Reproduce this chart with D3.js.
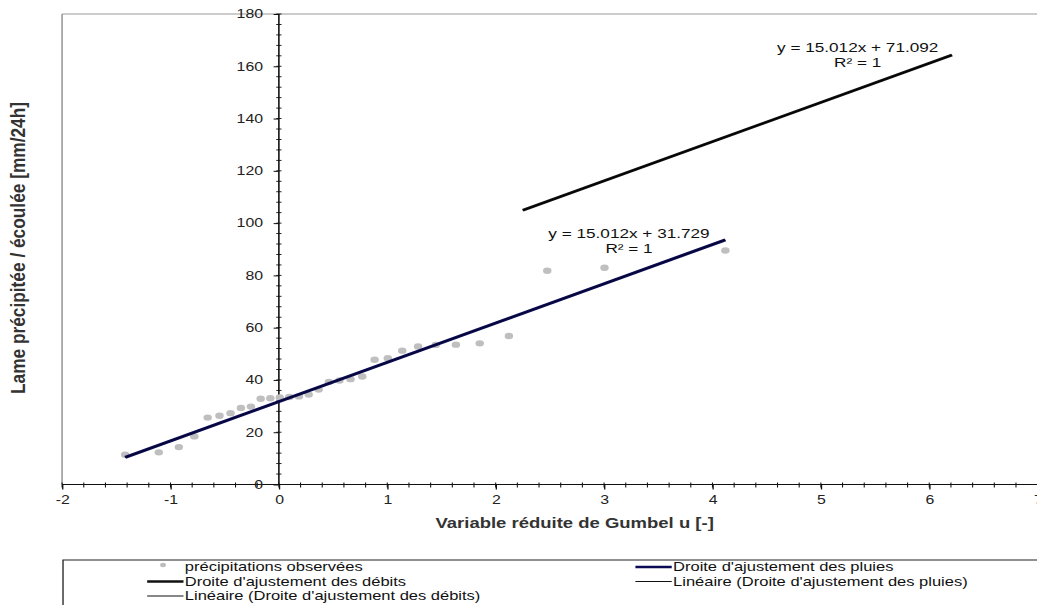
<!DOCTYPE html>
<html>
<head>
<meta charset="utf-8">
<script src="https://cdn.jsdelivr.net/npm/d3@7"></script>
<style>
  html, body { margin: 0; padding: 0; background: #fff; }
  svg { display: block; }
  text { font-family: "Liberation Sans", Arial, sans-serif; }
</style>
</head>
<body>
<div id="chart"></div>
<script>
// reduced Gumbel variate of each observation, and the observed rain depth
const uGumbel = [-1.418, -1.108, -0.923, -0.780, -0.657, -0.548, -0.446, -0.350, -0.258, -0.168,
                 -0.079, 0.008, 0.096, 0.185, 0.275, 0.367, 0.461, 0.559, 0.661, 0.769,
                 0.883, 1.005, 1.138, 1.284, 1.447, 1.633, 1.853, 2.122, 2.476, 3.004, 4.119];
const precipObs = [11.4, 12.3, 14.3, 18.4, 25.6, 26.3, 27.3, 29.3, 29.8, 32.8,
                   33.0, 33.3, 33.5, 33.7, 34.4, 36.3, 39.2, 39.8, 40.3, 41.3,
                   47.7, 48.3, 51.2, 52.8, 53.4, 53.5, 54.0, 56.8, 81.8, 82.9, 89.5];

// fitted lines (end points)
const fitPluiesU = [-1.418, 4.119];
const fitPluiesP = [10.4, 93.6];
const fitDebitsU = [2.25, 6.21];
const fitDebitsP = [104.9, 164.3];

const xTickValues = [-2, -1, 0, 1, 2, 3, 4, 5, 6, 7];
const yTickValues = [0, 20, 40, 60, 80, 100, 120, 140, 160, 180];

const eqPluies = ["y = 15.012x + 31.729", "R\u00b2 = 1"];
const eqDebits = ["y = 15.012x + 71.092", "R\u00b2 = 1"];

const legendLabels = [
  "précipitations observées",
  "Droite d'ajustement des pluies",
  "Droite d'ajustement des débits",
  "Linéaire (Droite d'ajustement des pluies)",
  "Linéaire (Droite d'ajustement des débits)"
];

// the picture is stretched horizontally, so draw in a narrower box and let the viewBox widen it
const W = 785, H = 605;

const svg = d3.select("#chart").append("svg")
  .attr("width", 1037)
  .attr("height", 605)
  .attr("viewBox", `0 0 ${W} ${H}`)
  .attr("preserveAspectRatio", "none");

const x = d3.scaleLinear().domain([-2, 7]).range([47, 785.5]);
const y = d3.scaleLinear().domain([0, 180]).range([484.5, 14]);

// plot frame (grey, top and left)
svg.append("line")
  .attr("x1", x(-2)).attr("x2", W).attr("y1", y(180)).attr("y2", y(180))
  .attr("stroke", "#9a9a9a").attr("stroke-width", 1.2);
svg.append("line")
  .attr("x1", x(-2)).attr("x2", x(-2)).attr("y1", y(180)).attr("y2", y(0))
  .attr("stroke", "#9a9a9a").attr("stroke-width", 1.2);

// minor ticks, crossing the axes
const xMinor = d3.range(-2, 7.001, 0.2);
const yMinor = d3.range(0, 180.001, 4);

svg.append("g").selectAll("line")
  .data(xMinor)
  .join("line")
    .attr("x1", d => x(d)).attr("x2", d => x(d))
    .attr("y1", y(0) - 2).attr("y2", y(0) + 3)
    .attr("stroke", "#111").attr("stroke-width", 0.8);

svg.append("g").selectAll("line")
  .data(yMinor)
  .join("line")
    .attr("x1", x(0) - 2).attr("x2", x(0) + 2)
    .attr("y1", d => y(d)).attr("y2", d => y(d))
    .attr("stroke", "#111").attr("stroke-width", 0.9);

// axes through the origin (plain hyphen for negatives, like the original)
const fmt = d => String(d);

const xAxis = svg.append("g")
  .attr("transform", `translate(0,${y(0)})`)
  .call(d3.axisBottom(x).tickValues(xTickValues).tickSize(5).tickPadding(6).tickFormat(fmt));
xAxis.select(".domain").attr("d", `M${x(-2)},0H${W}`).attr("stroke", "#111").attr("stroke-width", 1.2);

const yAxis = svg.append("g")
  .attr("transform", `translate(${x(0)},0)`)
  .call(d3.axisLeft(y).tickValues(yTickValues).tickSize(4).tickPadding(8).tickFormat(fmt));
yAxis.select(".domain").attr("d", `M0,${y(0)}V${y(180)}`).attr("stroke", "#111").attr("stroke-width", 1.2);

svg.selectAll(".tick line").attr("stroke", "#111");
svg.selectAll(".tick text")
  .attr("font-family", "Liberation Sans, Arial, sans-serif")
  .attr("font-size", 12)
  .attr("fill", "#222");

// axis titles
svg.append("text")
  .attr("x", 435).attr("y", 528)
  .attr("text-anchor", "middle")
  .attr("font-size", 14).attr("font-weight", "bold").attr("fill", "#333")
  .text("Variable réduite de Gumbel u [-]");

svg.append("text")
  .attr("transform", `translate(19,248) rotate(-90)`)
  .attr("text-anchor", "middle")
  .attr("font-size", 16).attr("font-weight", "bold").attr("fill", "#333")
  .attr("textLength", 292).attr("lengthAdjust", "spacingAndGlyphs")
  .text("Lame précipitée / écoulée [mm/24h]");

// observed points
svg.append("g").selectAll("circle")
  .data(uGumbel.map((u, i) => [u, precipObs[i]]))
  .join("circle")
    .attr("cx", d => x(d[0]))
    .attr("cy", d => y(d[1]))
    .attr("r", 3.2)
    .attr("fill", "#bfbfbf");

const line = d3.line().x(d => x(d[0])).y(d => y(d[1]));
const pluies = fitPluiesU.map((u, i) => [u, fitPluiesP[i]]);
const debits = fitDebitsU.map((u, i) => [u, fitDebitsP[i]]);

svg.append("path").datum(pluies)
  .attr("d", line).attr("fill", "none").attr("stroke", "#0b0b55").attr("stroke-width", 3);
svg.append("path").datum(debits)
  .attr("d", line).attr("fill", "none").attr("stroke", "#111").attr("stroke-width", 2.8);
// linear trendlines on top
svg.append("path").datum(pluies)
  .attr("d", line).attr("fill", "none").attr("stroke", "#000").attr("stroke-width", 0.8).attr("opacity", 0.6);
svg.append("path").datum(debits)
  .attr("d", line).attr("fill", "none").attr("stroke", "#000").attr("stroke-width", 0.8);

// trendline equations
function equation(lines, u, p) {
  const t = svg.append("text")
    .attr("text-anchor", "middle")
    .attr("font-size", 13).attr("fill", "#111");
  lines.forEach((s, i) => {
    t.append("tspan").attr("x", x(u)).attr("y", y(p) + i * 15).text(s);
  });
}
equation(eqPluies, 3.23, 94.3);
equation(eqDebits, 5.34, 165.5);

// legend
const leg = svg.append("g");
leg.append("rect")
  .attr("x", 47.7).attr("y", 560)
  .attr("width", W).attr("height", 60)
  .attr("fill", "#fff").attr("stroke", "#222").attr("stroke-width", 1);

const legItems = [
  {label: legendLabels[0], type: "dot",   lx: 111.4, row: 0},
  {label: legendLabels[1], type: "navy",  lx: 481,   row: 0},
  {label: legendLabels[2], type: "thick", lx: 111.4, row: 1},
  {label: legendLabels[3], type: "thin",  lx: 481,   row: 1},
  {label: legendLabels[4], type: "thin",  lx: 111.4, row: 2}
];
const rowY = [567, 581.5, 596];

legItems.forEach(it => {
  const cy = rowY[it.row];
  if (it.type === "dot") {
    leg.append("circle").attr("cx", it.lx + 12).attr("cy", cy - 2).attr("r", 2.2).attr("fill", "#bdbdbd");
  } else {
    leg.append("line")
      .attr("x1", it.lx).attr("x2", it.lx + 27.5)
      .attr("y1", cy).attr("y2", cy)
      .attr("stroke", it.type === "navy" ? "#0b0b55" : "#111")
      .attr("stroke-width", it.type === "thin" ? 1 : 2.6);
  }
  leg.append("text")
    .attr("x", it.lx + 28.5).attr("y", cy + 4.3)
    .attr("font-size", 12.5).attr("fill", "#111")
    .text(it.label);
});
</script>
</body>
</html>
